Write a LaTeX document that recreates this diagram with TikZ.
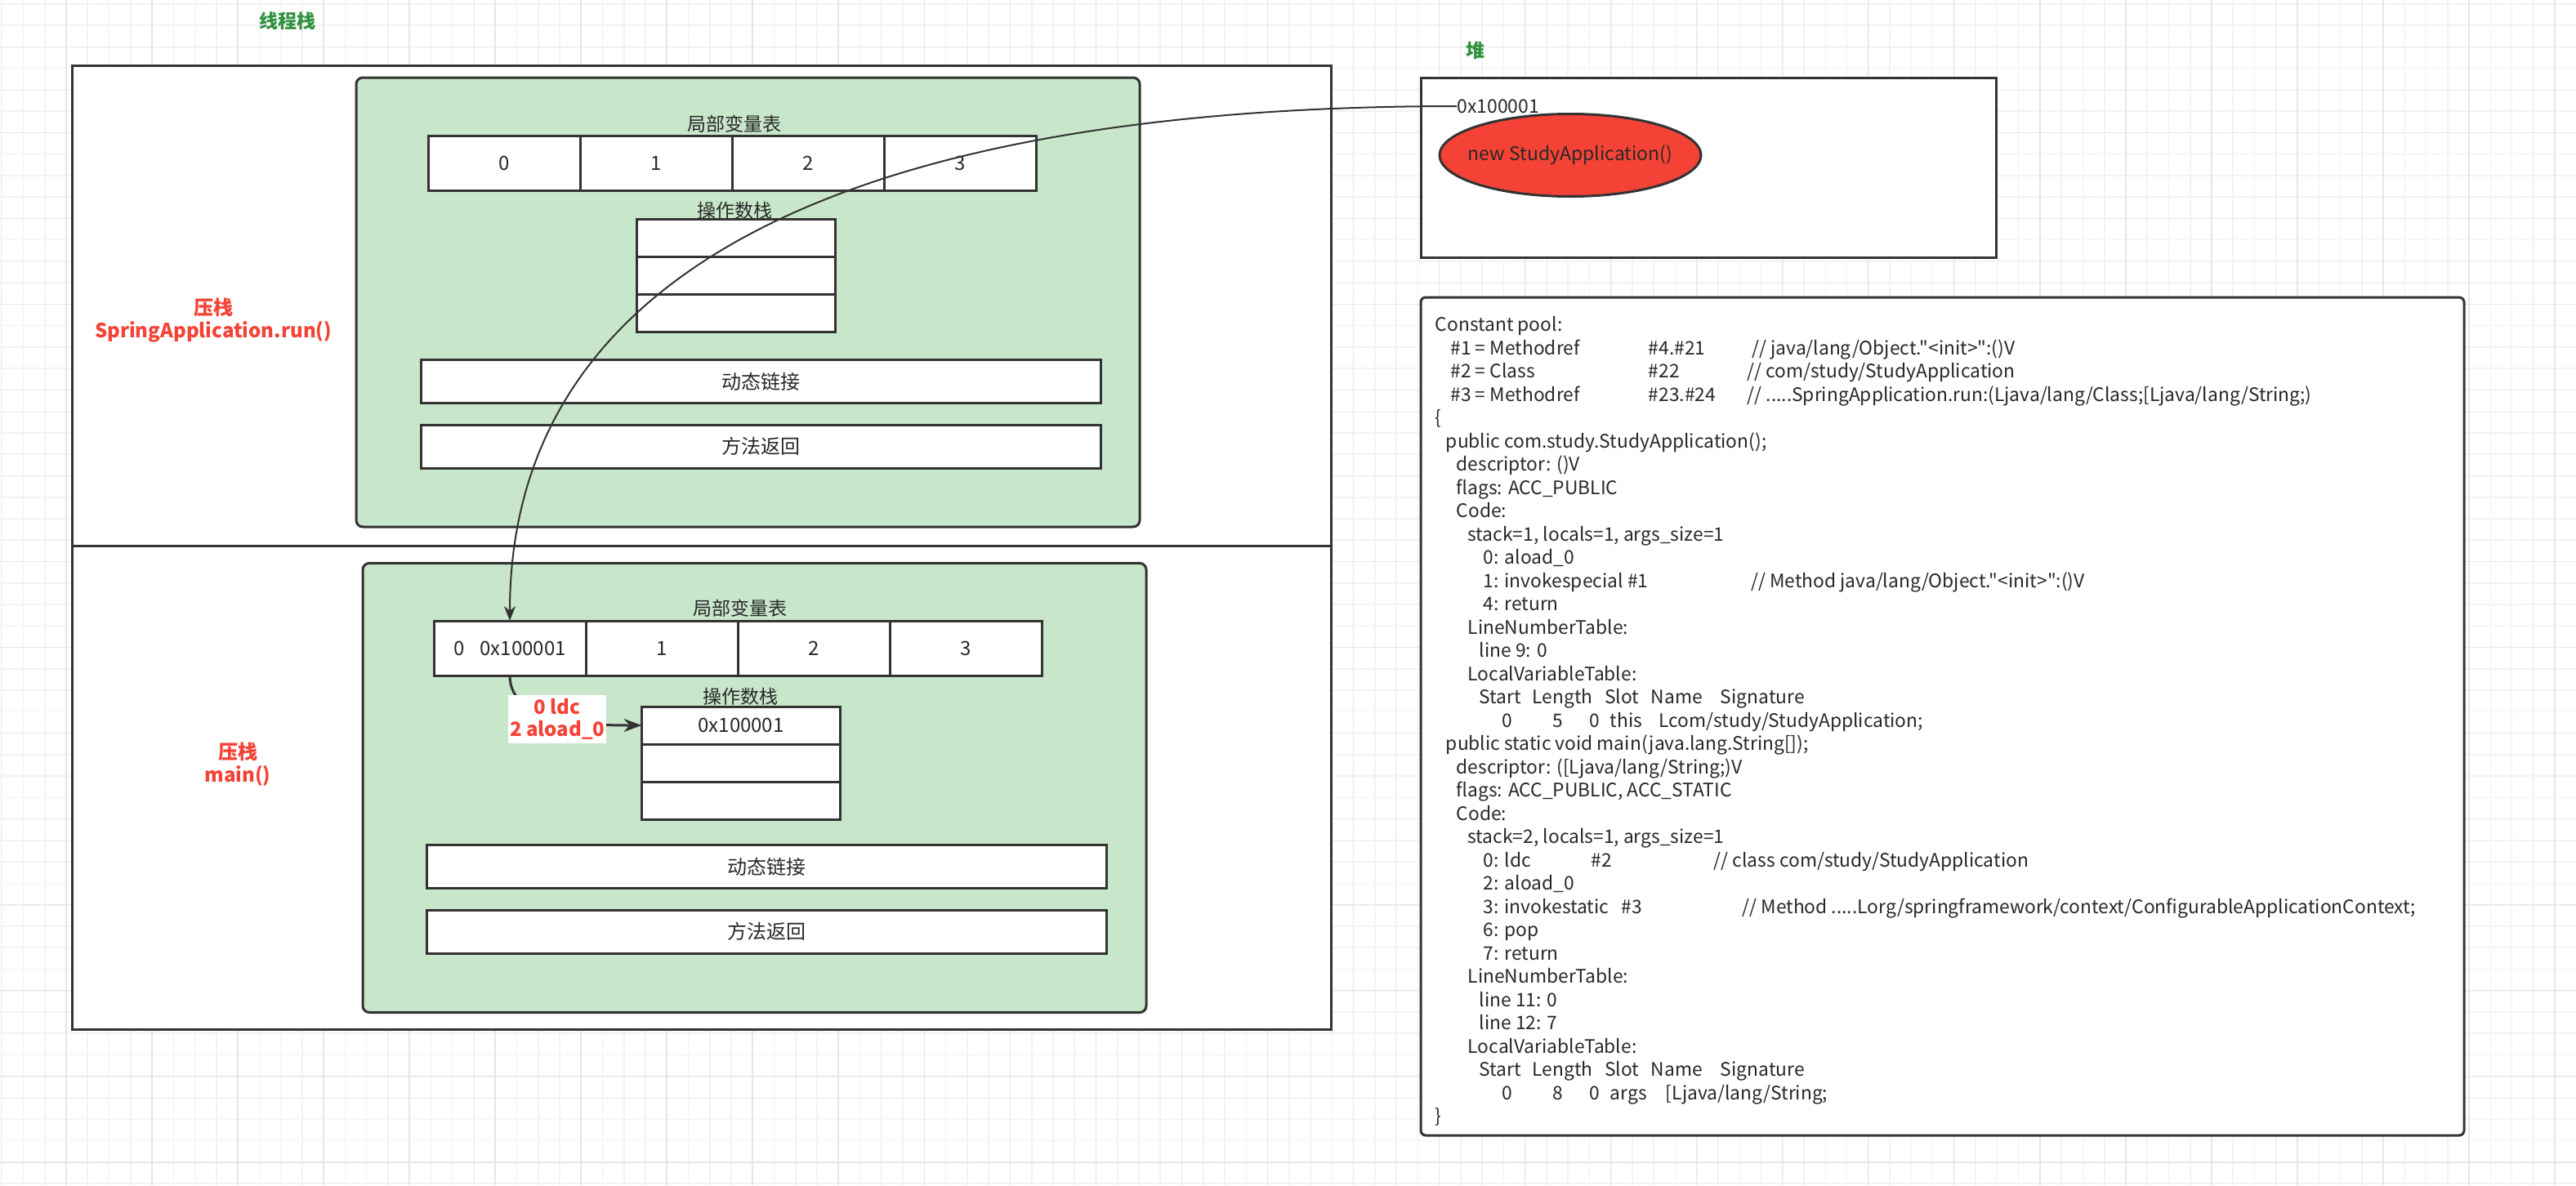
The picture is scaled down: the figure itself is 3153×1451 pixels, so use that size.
\documentclass[tikz,border=0pt]{standalone}
\usepackage{fontspec}
\setmainfont{Noto Sans CJK SC}
\newfontfamily\codefont{Noto Sans CJK SC}[Ligatures=TeXOff]
\usepackage{xcolor}
\usetikzlibrary{shapes.geometric, arrows.meta, positioning}

\definecolor{gridminor}{RGB}{242,242,242}
\definecolor{gridmajor}{RGB}{230,230,230}
\definecolor{stroke}{RGB}{51,51,51}
\definecolor{txt}{RGB}{40,40,40}
\definecolor{framegreen}{RGB}{200,230,201}
\definecolor{labelred}{RGB}{244,67,54}
\definecolor{titlegreen}{RGB}{48,145,62}

% text placed at a fixed column of a code line
\newcommand\tabat[2]{\rlap{\hspace*{#1}#2}}

\begin{document}
\begin{tikzpicture}[
    x=0.5pt, y=-0.5pt,
    box/.style={draw=stroke, line width=1.5pt, rectangle, inner sep=0pt, outer sep=0pt},
    threadbox/.style={box, fill=white, minimum width=770.5pt},
    frame/.style={box, rounded corners=4pt, fill=framegreen, minimum width=479.5pt, minimum height=275pt},
    cell/.style={box, fill=white, minimum width=93pt, minimum height=33.5pt, font=\fontsize{12}{14}\selectfont, text=txt},
    slot/.style={box, fill=white, minimum width=121.5pt, minimum height=23pt, font=\fontsize{12}{14}\selectfont, text=txt},
    bar/.style={box, fill=white, minimum width=416pt, minimum height=26.5pt, font=\fontsize{12}{14}\selectfont, text=txt},
    caption/.style={font=\fontsize{11.5}{14}\selectfont, text=txt, inner sep=0pt},
    pushlbl/.style={font=\bfseries\fontsize{12}{14}\selectfont, text=labelred, align=center},
    title/.style={font=\bfseries\fontsize{11.5}{14}\selectfont, text=titlegreen},
    oplbl/.style={fill=white, font=\bfseries\fontsize{12}{13.5}\selectfont, text=labelred, align=center, minimum width=56pt, minimum height=29.5pt, inner sep=1pt},
    code/.style={font=\codefont\fontsize{11.4}{14.25}\selectfont, text=txt, align=left, inner sep=0pt},
    ref/.style={draw=stroke, line width=1pt, -{Stealth[length=9pt,width=7pt]}},
    push/.style={draw=stroke, line width=1.5pt, -{Stealth[length=11pt,width=8pt]}}
]

% canvas and grid
\fill[white] (0,0) rectangle (3153,1451);
\useasboundingbox (0,0) rectangle (3153,1451);
\foreach \i in {0,...,119} \draw[gridminor, line width=0.8pt] ({2.22+26.26*\i},0) -- ({2.22+26.26*\i},1451);
\foreach \i in {0,...,55} \draw[gridminor, line width=0.8pt] (0,{4.78+26.26*\i}) -- (3153,{4.78+26.26*\i});
\foreach \i in {0,...,29} \draw[gridmajor, line width=0.8pt] ({81+105.03*\i},0) -- ({81+105.03*\i},1451);
\foreach \i in {0,...,13} \draw[gridmajor, line width=0.8pt] (0,{57.3+105.03*\i}) -- (3153,{57.3+105.03*\i});

% Thread stack
\node[title] (stacktitle) at (352,26) {线程栈};
\node[threadbox, minimum height=294pt] (runbox) at (858.5,374) {};
\node[threadbox, minimum height=296pt, below=0pt of runbox] (mainbox) {};

% Frame: SpringApplication.run()
\node[pushlbl] (runlbl) at (261,392) {压栈\\SpringApplication.run()};
\node[frame] (runframe) at (915.5,370) {};
\node[caption] (runlvtcap) at (899,152) {局部变量表};
\node[cell] (r0) at (617,199.5) {0};
\node[cell, right=0pt of r0] (r1) {1};
\node[cell, right=0pt of r1] (r2) {2};
\node[cell, right=0pt of r2] (r3) {3};
\node[caption] (runoscap) at (899,258) {操作数栈};
\node[slot] (rs1) at (900.5,291) {};
\node[slot, below=0pt of rs1] (rs2) {};
\node[slot, below=0pt of rs2] (rs3) {};
\node[bar] (rdyn) at (931,467) {动态链接};
\node[bar] (rret) at (931,546.5) {方法返回};

% Frame: main()
\node[pushlbl] (mainlbl) at (291,936) {压栈\\main()};
\node[frame] (mainframe) at (923.5,964.5) {};
\node[caption] (mainlvtcap) at (906,745) {局部变量表};
\node[cell] (m0) at (624,793.5) {0\hspace{0.8em}0x100001};
\node[cell, right=0pt of m0] (m1) {1};
\node[cell, right=0pt of m1] (m2) {2};
\node[cell, right=0pt of m2] (m3) {3};
\node[caption] (mainoscap) at (906,853) {操作数栈};
\node[slot] (ms1) at (907,888) {0x100001};
\node[slot, below=0pt of ms1] (ms2) {};
\node[slot, below=0pt of ms2] (ms3) {};
\node[bar] (mdyn) at (938.5,1061) {动态链接};
\node[bar] (mret) at (938.5,1140.5) {方法返回};

% Heap
\node[title] (heaptitle) at (1806,62) {堆};
\node[box, fill=white, minimum width=352pt, minimum height=110pt] (heap) at (2091,205) {};
\node[caption, anchor=west] (heapaddr) at (1783,130) {0x100001};
\node[ellipse, draw=stroke, line width=1.5pt, fill=labelred, minimum width=160pt, minimum height=50.5pt, inner sep=0pt, font=\fontsize{11.5}{14}\selectfont, text=txt] (obj) at (1922,190) {\makebox[0pt]{new StudyApplication()}};

% Constant pool / bytecode
\node[box, rounded corners=3pt, fill=white, minimum width=638.5pt, minimum height=513pt] (pool) at (2377.5,877) {};
\node[code, anchor=north west] (poolcode) at (1756.5,387) {%
Constant pool:\\
\tabat{9.3pt}{\#1 = Methodref}\tabat{130.4pt}{\#4.\#21}\tabat{193.8pt}{// java/lang/Object."<init>":()V}\\
\tabat{9.3pt}{\#2 = Class}\tabat{130.4pt}{\#22}\tabat{190.9pt}{// com/study/StudyApplication}\\
\tabat{9.3pt}{\#3 = Methodref}\tabat{130.4pt}{\#23.\#24}\tabat{190.9pt}{// .....SpringApplication.run:(Ljava/lang/Class;[Ljava/lang/String;)}\\
\{\\
\tabat{6.5pt}{public com.study.StudyApplication();}\\
\tabat{12.9pt}{descriptor: ()V}\\
\tabat{12.9pt}{flags: ACC\_PUBLIC}\\
\tabat{12.9pt}{Code:}\\
\tabat{19.9pt}{stack=1, locals=1, args\_size=1}\\
\tabat{29.5pt}{0: aload\_0}\\
\tabat{29.5pt}{1: invokespecial \#1}\tabat{193.2pt}{// Method java/lang/Object."<init>":()V}\\
\tabat{29.5pt}{4: return}\\
\tabat{19.9pt}{LineNumberTable:}\\
\tabat{27pt}{line 9: 0}\\
\tabat{19.9pt}{LocalVariableTable:}\\
\tabat{27pt}{Start}\tabat{59.3pt}{Length}\tabat{103.7pt}{Slot}\tabat{131.9pt}{Name}\tabat{174.5pt}{Signature}\\
\tabat{40.7pt}{0}\tabat{71.8pt}{5}\tabat{94.5pt}{0}\tabat{107pt}{this}\tabat{136.9pt}{Lcom/study/StudyApplication;}\\
\tabat{6.5pt}{public static void main(java.lang.String[]);}\\
\tabat{12.9pt}{descriptor: ([Ljava/lang/String;)V}\\
\tabat{12.9pt}{flags: ACC\_PUBLIC, ACC\_STATIC}\\
\tabat{12.9pt}{Code:}\\
\tabat{19.9pt}{stack=2, locals=1, args\_size=1}\\
\tabat{29.5pt}{0: ldc}\tabat{95.4pt}{\#2}\tabat{170.4pt}{// class com/study/StudyApplication}\\
\tabat{29.5pt}{2: aload\_0}\\
\tabat{29.5pt}{3: invokestatic}\tabat{114pt}{\#3}\tabat{187.8pt}{// Method .....Lorg/springframework/context/ConfigurableApplicationContext;}\\
\tabat{29.5pt}{6: pop}\\
\tabat{29.5pt}{7: return}\\
\tabat{19.9pt}{LineNumberTable:}\\
\tabat{27pt}{line 11: 0}\\
\tabat{27pt}{line 12: 7}\\
\tabat{19.9pt}{LocalVariableTable:}\\
\tabat{27pt}{Start}\tabat{59.3pt}{Length}\tabat{103.7pt}{Slot}\tabat{131.9pt}{Name}\tabat{174.5pt}{Signature}\\
\tabat{40.7pt}{0}\tabat{71.8pt}{8}\tabat{94.5pt}{0}\tabat{107pt}{args}\tabat{141pt}{[Ljava/lang/String;}\\
\}};

% Connectors
\draw[push] (m0.south) .. controls +(0,60) and +(-60,0) .. (ms1.west)
    node[pos=0.5, oplbl] (ldclbl) {0 ldc\\2 aload\_0};
\draw[ref] (heapaddr.west) .. controls +(-680,0) and +(0,-460) .. (m0.north);

\end{tikzpicture}
\end{document}
